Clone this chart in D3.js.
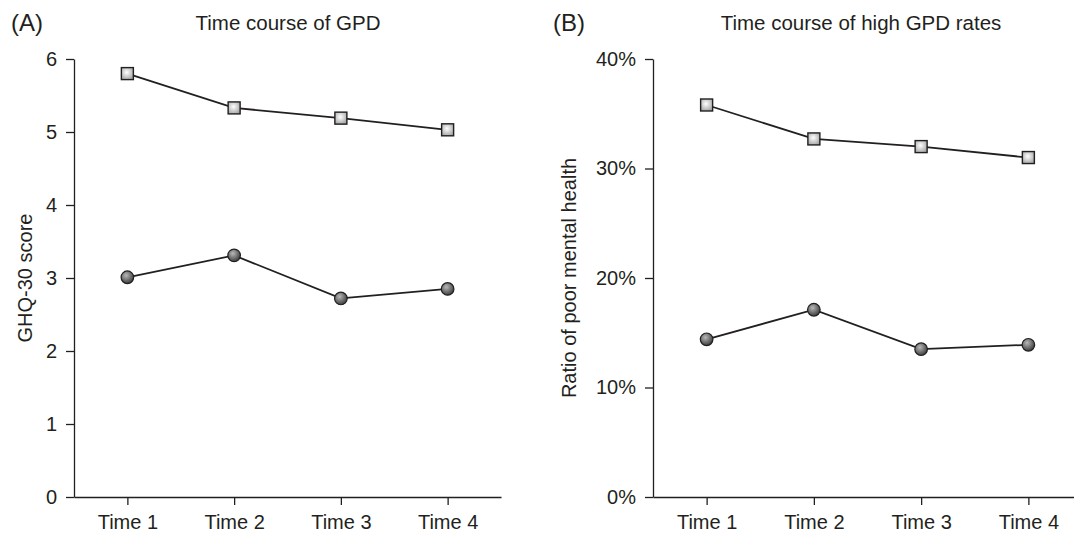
<!DOCTYPE html>
<html>
<head>
<meta charset="utf-8">
<script src="https://cdn.jsdelivr.net/npm/d3@7"></script>
<style>
  html, body { margin: 0; padding: 0; background: #fff; }
  svg { display: block; font-family: "Liberation Sans", Arial, Helvetica, sans-serif; }
</style>
</head>
<body>
<svg id="chart" width="1074" height="534"></svg>
<script>
// ---- Data ----
const categories = ["Time 1", "Time 2", "Time 3", "Time 4"];
// Panel A: GHQ-30 score
const scoreSquare = [5.80, 5.33, 5.19, 5.03];
const scoreCircle = [3.01, 3.31, 2.72, 2.85];
const scoreTicks = [0, 1, 2, 3, 4, 5, 6];
// Panel B: ratio of poor mental health
const rateSquare = [0.358, 0.327, 0.320, 0.310];
const rateCircle = [0.144, 0.171, 0.135, 0.139];
const rateTicks = [0, 0.1, 0.2, 0.3, 0.4];

const panelLetters = ["(A)", "(B)"];
const panelTitles = ["Time course of GPD", "Time course of high GPD rates"];
const yTitles = ["GHQ-30 score", "Ratio of poor mental health"];

// ---- Drawing ----
const svg = d3.select("#chart");
const ink = "#231f20";

const defs = svg.append("defs");
const gSq = defs.append("radialGradient").attr("id", "gradSquare")
  .attr("cx", "45%").attr("cy", "40%").attr("r", "70%");
gSq.append("stop").attr("offset", "0%").attr("stop-color", "#ffffff");
gSq.append("stop").attr("offset", "100%").attr("stop-color", "#9d9d9d");
const gCi = defs.append("radialGradient").attr("id", "gradCircle")
  .attr("cx", "40%").attr("cy", "35%").attr("r", "65%");
gCi.append("stop").attr("offset", "0%").attr("stop-color", "#b8b8b8");
gCi.append("stop").attr("offset", "100%").attr("stop-color", "#3e3e3e");

const panels = [
  { x0: 74, x1: 501, yTop: 59, yBot: 497, domain: [0, 6], ticks: scoreTicks,
    fmt: d3.format("d"), sq: scoreSquare, ci: scoreCircle,
    letterX: 11, titleX: 288, yTitleX: 32 },
  { x0: 653, x1: 1082, yTop: 59, yBot: 497, domain: [0, 0.4], ticks: rateTicks,
    fmt: d3.format(".0%"), sq: rateSquare, ci: rateCircle,
    letterX: 553, titleX: 861, yTitleX: 576 }
];

panels.forEach((p, i) => {
  const g = svg.append("g");
  const x = d3.scalePoint().domain(categories).range([p.x0, p.x1]).padding(0.5);
  const y = d3.scaleLinear().domain(p.domain).range([p.yBot, p.yTop]);

  // Y axis
  const ya = g.append("g").attr("transform", `translate(${p.x0},0)`)
    .call(d3.axisLeft(y).tickValues(p.ticks).tickFormat(p.fmt).tickSize(8).tickSizeOuter(0).tickPadding(9));
  // X axis
  const xa = g.append("g").attr("transform", `translate(0,${p.yBot})`)
    .call(d3.axisBottom(x).tickSize(8).tickSizeOuter(0).tickPadding(10));

  [ya, xa].forEach(a => {
    a.selectAll("path, line").attr("stroke", ink).attr("stroke-width", 1.3);
    a.selectAll("text").attr("fill", ink).style("font-size", "20px")
      .style("font-family", "'Liberation Sans', Arial, sans-serif");
  });

  // Lines
  const line = d3.line().x((d, k) => x(categories[k])).y(d => y(d));
  [p.sq, p.ci].forEach(series => {
    g.append("path").datum(series).attr("d", line)
      .attr("fill", "none").attr("stroke", ink).attr("stroke-width", 1.8);
  });

  // Square markers
  g.selectAll(".sq").data(p.sq).enter().append("rect")
    .attr("x", (d, k) => x(categories[k]) - 6)
    .attr("y", d => y(d) - 6)
    .attr("width", 12).attr("height", 12)
    .attr("fill", "url(#gradSquare)").attr("stroke", ink).attr("stroke-width", 1.4);

  // Circle markers
  g.selectAll(".ci").data(p.ci).enter().append("circle")
    .attr("cx", (d, k) => x(categories[k]))
    .attr("cy", d => y(d))
    .attr("r", 6.3)
    .attr("fill", "url(#gradCircle)").attr("stroke", ink).attr("stroke-width", 1.2);

  // Texts
  g.append("text").attr("x", p.letterX).attr("y", 31)
    .attr("fill", ink).style("font-size", "24px").text(panelLetters[i]);
  g.append("text").attr("x", p.titleX).attr("y", 30).attr("text-anchor", "middle")
    .attr("fill", ink).style("font-size", "20.5px").text(panelTitles[i]);
  g.append("text")
    .attr("transform", `translate(${p.yTitleX},${(p.yTop + p.yBot) / 2}) rotate(-90)`)
    .attr("text-anchor", "middle")
    .attr("fill", ink).style("font-size", "20px").text(yTitles[i]);
});
</script>
</body>
</html>
